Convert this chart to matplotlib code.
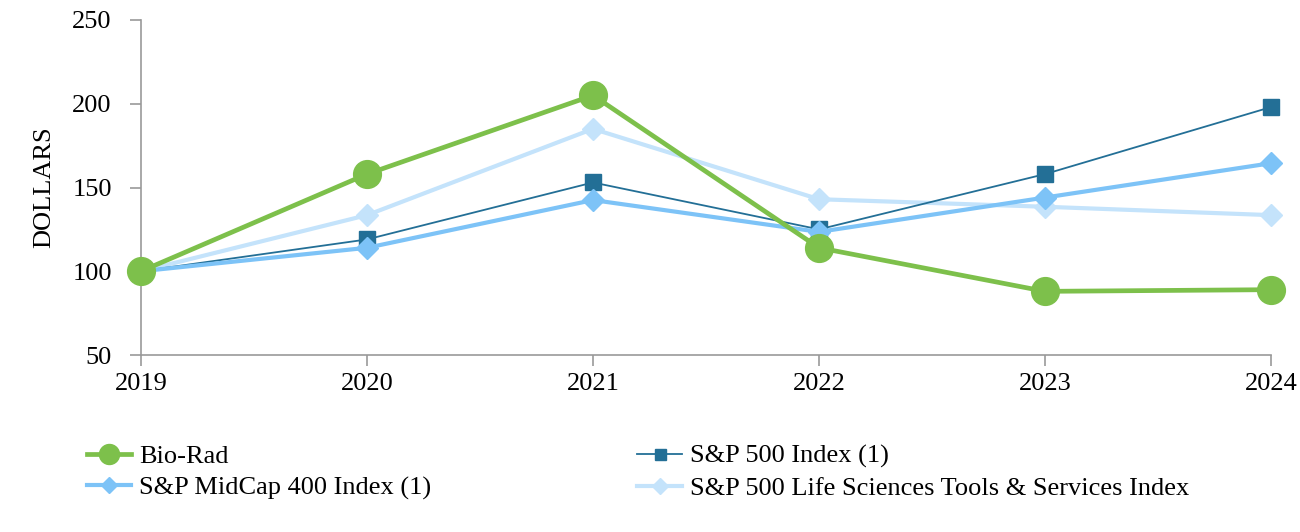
import matplotlib
matplotlib.use("Agg")
import matplotlib.pyplot as plt

years = [2019, 2020, 2021, 2022, 2023, 2024]
bio_rad = [100, 158, 205, 114, 88, 89]
sp500 = [100, 119, 153, 125, 158, 198]
midcap = [100, 114, 142.5, 123.5, 144, 164.5]
lifesci = [100, 133.5, 185, 143, 138.5, 133.5]
yticks = [50, 100, 150, 200, 250]

plt.rcParams['font.family'] = ['Liberation Serif', 'DejaVu Serif']
FS = 19

fig = plt.figure(figsize=(13, 5.32), dpi=100)
ax = fig.add_axes([141/1300, 1 - 355/532, (1271-141)/1300, (355-20)/532])

l_bio, = ax.plot(years, bio_rad, color='#7DC04B', lw=3.4, marker='o', markersize=20, zorder=5, label='Bio-Rad', clip_on=False)
l_sp, = ax.plot(years, sp500, color='#236F96', lw=1.3, marker='s', markersize=11, zorder=3, label='S&P 500 Index (1)', clip_on=False)
l_mid, = ax.plot(years, midcap, color='#7DC3F7', lw=3.0, marker='D', markersize=11, zorder=4, label='S&P MidCap 400 Index (1)', clip_on=False)
l_life, = ax.plot(years, lifesci, color='#C4E3FB', lw=3.0, marker='D', markersize=11, zorder=2, label='S&P 500 Life Sciences Tools & Services Index', clip_on=False)

ax.set_xlim(2019, 2024)
ax.set_ylim(50, 250)
ax.set_xticks(years)
ax.set_yticks(yticks)
ax.tick_params(axis='both', labelsize=FS, color='#999999', length=8, width=1.2, direction='out')
ax.tick_params(axis='x', pad=5)
ax.tick_params(axis='y', pad=13)
for s in ['top', 'right']:
    ax.spines[s].set_visible(False)
for s in ['left', 'bottom']:
    ax.spines[s].set_color('#999999')
    ax.spines[s].set_linewidth(1.2)
ax.set_ylabel('DOLLARS', fontsize=FS, labelpad=12)

handles = [l_bio, l_mid, l_sp, l_life]
leg = fig.legend(handles, [h.get_label() for h in handles], ncol=2, loc='upper left',
                 bbox_to_anchor=(76/1300, 1 - 434/532), frameon=False, fontsize=FS,
                 handlelength=1.7, columnspacing=7.8, labelspacing=0.3, handletextpad=0.3,
                 markerscale=0.72, borderaxespad=0)

fig.savefig('out.png', dpi=100)
